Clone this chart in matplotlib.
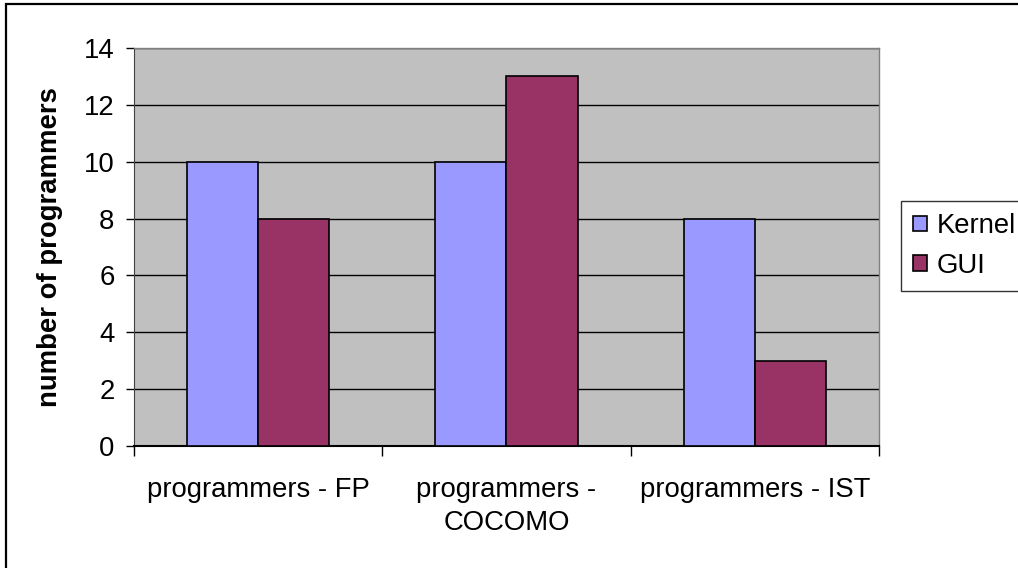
import matplotlib
matplotlib.use("Agg")
import matplotlib.pyplot as plt
from matplotlib.patches import Rectangle
import numpy as np

plt.rcParams['font.family'] = ['Liberation Sans', 'DejaVu Sans']

categories = ["programmers - FP", "programmers -\nCOCOMO", "programmers - IST"]
kernel = [10, 10, 8]
gui = [8, 13, 3]
yticks = [0, 2, 4, 6, 8, 10, 12, 14]

FS = 19.8

fig = plt.figure(figsize=(10.18, 5.68), dpi=100)
ax = fig.add_axes([134 / 1018, 1 - 446 / 568, 745 / 1018, 398 / 568])
ax.set_facecolor('#C0C0C0')

x = np.arange(len(categories))
w = 0.287
ax.bar(x - w / 2, kernel, w, color='#9999FF', edgecolor='black', linewidth=1.2,
       label='Kernel', zorder=3)
ax.bar(x + w / 2, gui, w, color='#993366', edgecolor='black', linewidth=1.2,
       label='GUI', zorder=3)

ax.set_xlim(-0.5, len(categories) - 0.5)
ax.set_ylim(0, 14)
ax.set_yticks(yticks)
ax.tick_params(axis='y', labelsize=FS, length=6, width=1, direction='out', pad=8)
ax.yaxis.grid(True, color='black', linewidth=1, zorder=1)

# category boundaries get the tick marks, centers get the labels
ax.set_xticks(np.arange(len(categories) + 1) - 0.5)
ax.set_xticklabels([])
ax.set_xticks(x, minor=True)
ax.set_xticklabels(categories, minor=True, fontsize=FS, linespacing=1.35)
ax.tick_params(axis='x', which='major', length=7, width=1, direction='out')
ax.tick_params(axis='x', which='minor', length=0, pad=22)

for side in ['top', 'right']:
    ax.spines[side].set_color('#808080')
    ax.spines[side].set_linewidth(1)
ax.spines['left'].set_color('#404040')
ax.spines['bottom'].set_color('black')
ax.spines['bottom'].set_linewidth(1.5)

ax.set_ylabel('number of programmers', fontsize=FS, fontweight='bold', labelpad=15)

fig.legend(loc='center left', bbox_to_anchor=(901 / 1018, 1 - 246 / 568),
           fontsize=FS, frameon=True, fancybox=False, edgecolor='black',
           handlelength=0.5, handleheight=0.5, handletextpad=0.35,
           labelspacing=0.5, borderpad=0.45, borderaxespad=0)

# outer chart frame
fig.patches.append(Rectangle((6 / 1018, -0.1), 1.1, 1.1 - 4.3 / 568,
                             transform=fig.transFigure, fill=False,
                             edgecolor='black', linewidth=1.6))

fig.savefig('out.png', dpi=100)
